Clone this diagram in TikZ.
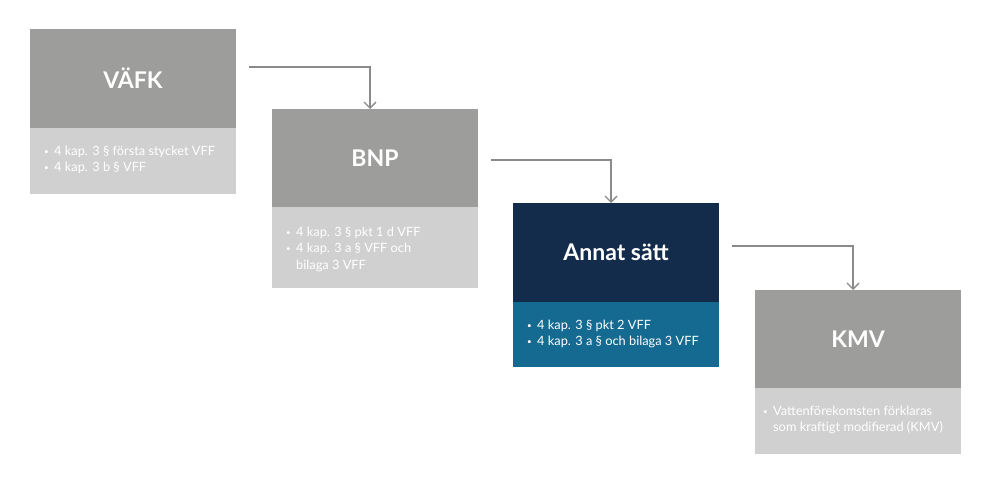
\documentclass[tikz,border=0pt]{standalone}
\usepackage{fontspec}
\setmainfont{Lato}
\usetikzlibrary{arrows.meta,calc}
\definecolor{hdgray}{HTML}{9D9D9C}
\definecolor{bdgray}{HTML}{D0D0D0}
\definecolor{hdnavy}{HTML}{142C4B}
\definecolor{bdteal}{HTML}{146A91}
\definecolor{arrgray}{HTML}{8A8A8A}
\newcommand{\bodyfont}{\fontsize{12.8}{16.5}\selectfont}
\newcommand{\bl}{\raisebox{0.6pt}{\fontsize{8}{8}\selectfont\textbullet}}
\begin{document}
\begin{tikzpicture}[x=1pt,y=-1pt,
  hd/.style={anchor=north west,minimum width=206pt,inner sep=0pt,outer sep=0pt,text=white,font=\bfseries\fontsize{23}{26}\selectfont},
  bd/.style={anchor=north west,minimum width=206pt,inner sep=0pt,outer sep=0pt},
  txt/.style={anchor=base west,inner sep=0pt,text=white,font=\bodyfont,align=left},
  arr/.style={draw=arrgray,line width=1.5pt,-{Straight Barb[length=6pt,width=12pt,line width=1.3pt]}}]
\useasboundingbox[fill=white] (0,0) rectangle (989,479);
% box 1
\node[hd,fill=hdgray,minimum height=99pt] (h1) at (30,29) {VÄFK};
\node[bd,fill=bdgray,minimum height=66pt] (b1) at (h1.south west) {};
\node[txt] (t1) at ($(b1.north west)+(14,27)$) {\begin{tabular}[t]{@{}p{10pt}@{}l@{}}\bl & 4 kap. 3 § första stycket VFF\\ \bl & 4 kap. 3 b § VFF\end{tabular}};
% box 2
\node[hd,fill=hdgray,minimum height=98pt] (h2) at (272,109) {BNP};
\node[bd,fill=bdgray,minimum height=81pt] (b2) at (h2.south west) {};
\node[txt] (t2) at ($(b2.north west)+(14,29)$) {\begin{tabular}[t]{@{}p{10pt}@{}l@{}}\bl & 4 kap. 3 § pkt 1 d VFF\\ \bl & 4 kap. 3 a § VFF och\\ & bilaga 3 VFF\end{tabular}};
% box 3
\node[hd,fill=hdnavy,minimum height=99pt] (h3) at (513,203) {Annat sätt};
\node[bd,fill=bdteal,minimum height=65pt] (b3) at (h3.south west) {};
\node[txt] (t3) at ($(b3.north west)+(14,27)$) {\begin{tabular}[t]{@{}p{10pt}@{}l@{}}\bl & 4 kap. 3 § pkt 2 VFF\\ \bl & 4 kap. 3 a § och bilaga 3 VFF\end{tabular}};
% box 4
\node[hd,fill=hdgray,minimum height=98pt] (h4) at (755,290) {KMV};
\node[bd,fill=bdgray,minimum height=66pt] (b4) at (h4.south west) {};
\node[txt] (t4) at ($(b4.north west)+(8,27)$) {\begin{tabular}[t]{@{}p{10pt}@{}l@{}}\bl & Vattenförekomsten förklaras\\ & som kraftigt modifierad (KMV)\end{tabular}};
% connectors
\coordinate (s1) at (249,67);
\coordinate (s2) at (491,160);
\coordinate (s3) at (732,246);
\draw[arr] (s1) -| ([xshift=-5pt]h2.north);
\draw[arr] (s2) -| ([xshift=-5pt]h3.north);
\draw[arr] (s3) -| ([xshift=-5pt]h4.north);
\end{tikzpicture}
\end{document}
